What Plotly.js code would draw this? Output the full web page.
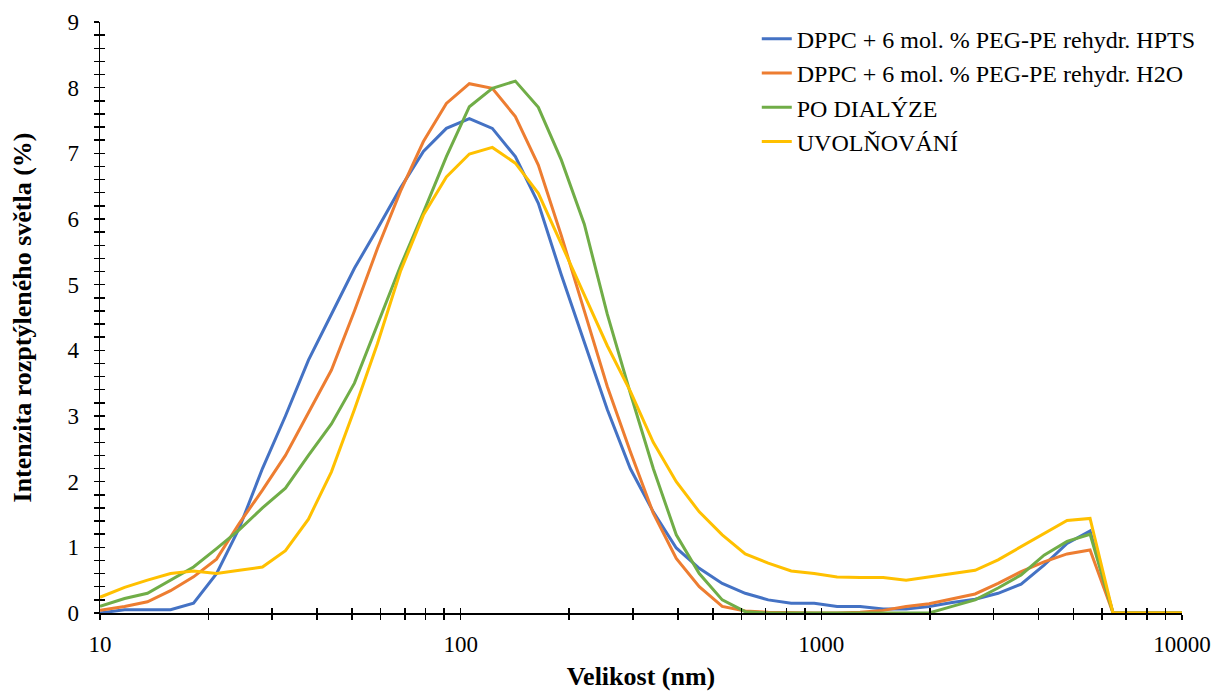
<!DOCTYPE html>
<html>
<head>
<meta charset="utf-8">
<script src="https://cdn.plot.ly/plotly-3.0.1.min.js"></script>
<style>html,body{margin:0;padding:0;background:#fff;}#chart{width:1213px;height:691px;}</style>
</head>
<body>
<div id="chart"></div>
<script>
const sizes = [10, 11.7, 13.54, 15.69, 18.17, 21.04, 24.36, 28.21, 32.67, 37.84, 43.82, 50.75, 58.77, 68.06, 78.82, 91.28, 105.7, 122.4, 141.8, 164.2, 190.1, 220.2, 255.0, 295.3, 342.0, 396.1, 458.7, 531.2, 615.1, 712.4, 825.0, 955.4, 1106, 1281, 1484, 1718, 1990, 2305, 2669, 3091, 3580, 4145, 4801, 5560, 6439, 7456, 8635, 10000];

const hpts = [0.0, 0.05, 0.05, 0.05, 0.15, 0.6, 1.3, 2.2, 3.0, 3.85, 4.55, 5.25, 5.85, 6.47, 7.03, 7.38, 7.53, 7.38, 6.95, 6.24, 5.15, 4.11, 3.1, 2.2, 1.54, 0.99, 0.68, 0.45, 0.3, 0.2, 0.15, 0.15, 0.1, 0.1, 0.06, 0.06, 0.1, 0.16, 0.21, 0.3, 0.44, 0.73, 1.06, 1.25, 0, 0, 0, 0];

const h2o = [0.04, 0.1, 0.17, 0.34, 0.55, 0.82, 1.37, 1.87, 2.4, 3.05, 3.7, 4.6, 5.55, 6.42, 7.18, 7.76, 8.06, 7.99, 7.56, 6.82, 5.75, 4.6, 3.45, 2.46, 1.52, 0.83, 0.4, 0.1, 0.03, 0.01, 0, 0, 0, 0.01, 0.04, 0.1, 0.14, 0.21, 0.29, 0.45, 0.63, 0.78, 0.9, 0.96, 0, 0, 0, 0];

const dialyza = [0.1, 0.22, 0.3, 0.5, 0.7, 0.98, 1.27, 1.6, 1.9, 2.4, 2.88, 3.5, 4.4, 5.28, 6.1, 6.95, 7.71, 7.99, 8.1, 7.7, 6.9, 5.92, 4.55, 3.35, 2.2, 1.19, 0.6, 0.2, 0.02, 0, 0, 0, 0, 0, 0, 0, 0, 0.1, 0.2, 0.38, 0.58, 0.88, 1.09, 1.2, 0, 0, 0, 0];

const uvolnovani = [0.24, 0.39, 0.5, 0.6, 0.64, 0.6, 0.65, 0.7, 0.95, 1.43, 2.15, 3.1, 4.1, 5.2, 6.06, 6.64, 6.99, 7.09, 6.85, 6.39, 5.62, 4.84, 4.07, 3.38, 2.6, 2.0, 1.54, 1.19, 0.9, 0.76, 0.64, 0.6, 0.55, 0.54, 0.54, 0.5, 0.55, 0.6, 0.65, 0.81, 1.01, 1.21, 1.41, 1.44, 0, 0, 0, 0];

const seriesNames = ["DPPC + 6 mol. % PEG-PE rehydr. HPTS", "DPPC + 6 mol. % PEG-PE rehydr. H2O", "PO DIALÝZE", "UVOLŇOVÁNÍ"];
const seriesData = [hpts, h2o, dialyza, uvolnovani];
const colors = ["#4472C4", "#ED7D31", "#70AD47", "#FFC000"];

const xTickVals = [10,20,30,40,50,60,70,80,90,100,200,300,400,500,600,700,800,900,1000,2000,3000,4000,5000,6000,7000,8000,9000,10000];
const xTickText = ['10','','','','','','','','','100','','','','','','','','','1000','','','','','','','','','10000'];
const yTickVals = [0,1,2,3,4,5,6,7,8,9];
const yTickText = ['0','1','2','3','4','5','6','7','8','9'];

const FONT = '"Liberation Serif", "Times New Roman", Times, serif';
const TICK = {color: '#000', ticklen: 5, tickwidth: 1.5};

const traces = seriesData.map((d, i) => ({
  x: sizes, y: d, type: 'scatter', mode: 'lines', name: seriesNames[i],
  line: {color: colors[i], width: 3}
}));
// empty helper trace so the overlay axes (inner halves of the crossing ticks) are drawn
traces.push({x: [], y: [], type: 'scatter', mode: 'lines', xaxis: 'x2', yaxis: 'y2', showlegend: false, hoverinfo: 'skip'});

const layout = {
  width: 1213, height: 691,
  margin: {l: 100, r: 31, t: 22, b: 78},
  paper_bgcolor: '#fff', plot_bgcolor: 'rgba(0,0,0,0)',
  font: {family: FONT, size: 23, color: '#000'},
  showlegend: true,
  legend: {x: 0.607, y: 1.009, xanchor: 'left', yanchor: 'top', font: {family: FONT, size: 24, color: '#000'}, bgcolor: 'rgba(0,0,0,0)', tracegroupgap: 0},
  xaxis: {
    type: 'log', range: [1, 4], showgrid: false, zeroline: false,
    showline: true, linecolor: '#000', linewidth: 1.5,
    tickmode: 'array', tickvals: xTickVals, ticktext: xTickText,
    ticks: 'outside', ticklen: TICK.ticklen, tickcolor: TICK.color, tickwidth: TICK.tickwidth,
    ticklabelstandoff: 5,
    tickfont: {family: FONT, size: 23, color: '#000'},
    title: {text: '<b>Velikost (nm)</b>', font: {family: FONT, size: 26, color: '#000'}, standoff: 11}
  },
  xaxis2: {
    type: 'log', range: [1, 4], overlaying: 'x', anchor: 'y2', side: 'bottom',
    showgrid: false, zeroline: false, showline: false, showticklabels: false,
    tickmode: 'array', tickvals: xTickVals,
    ticks: 'inside', ticklen: TICK.ticklen, tickcolor: TICK.color, tickwidth: TICK.tickwidth
  },
  yaxis: {
    range: [0, 9], showgrid: false, zeroline: false,
    showline: true, linecolor: '#000', linewidth: 1.5,
    tickmode: 'array', tickvals: yTickVals, ticktext: yTickText,
    ticks: 'outside', ticklen: TICK.ticklen, tickcolor: TICK.color, tickwidth: TICK.tickwidth,
    minor: {dtick: 0.2, ticks: 'outside', ticklen: TICK.ticklen, tickcolor: TICK.color, tickwidth: TICK.tickwidth, showgrid: false},
    tickfont: {family: FONT, size: 23, color: '#000'},
    ticklabelstandoff: 10,
    title: {text: '<b>Intenzita rozptýleného světla (%)</b>', font: {family: FONT, size: 26, color: '#000'}, standoff: 28}
  },
  yaxis2: {
    range: [0, 9], overlaying: 'y', anchor: 'x2', side: 'left',
    showgrid: false, zeroline: false, showline: false, showticklabels: false,
    tickmode: 'array', tickvals: yTickVals,
    ticks: 'inside', ticklen: TICK.ticklen, tickcolor: TICK.color, tickwidth: TICK.tickwidth,
    minor: {dtick: 0.2, ticks: 'inside', ticklen: TICK.ticklen, tickcolor: TICK.color, tickwidth: TICK.tickwidth, showgrid: false}
  }
};

Plotly.newPlot('chart', traces, layout, {displayModeBar: false, staticPlot: true});
</script>
</body>
</html>
